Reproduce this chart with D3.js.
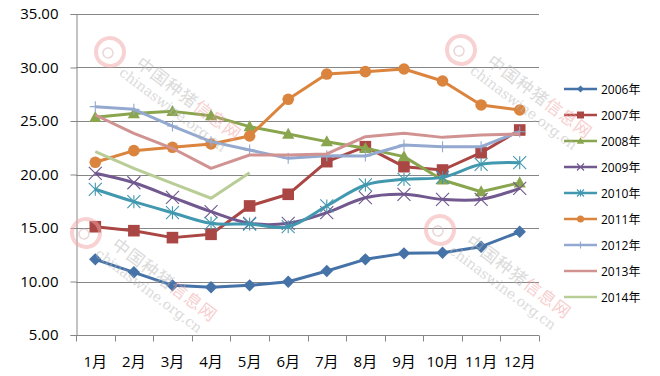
<!DOCTYPE html>
<html>
<head>
<meta charset="utf-8">
<script src="https://cdn.jsdelivr.net/npm/d3@7"></script>
<style>
  html, body { margin: 0; padding: 0; background: #fff; }
  svg { display: block; }
</style>
</head>
<body>
<div id="chart"></div>
<script>
/* ── Data (price per kg, by month) ── */
const months = ["1月", "2月", "3月", "4月", "5月", "6月", "7月", "8月", "9月", "10月", "11月", "12月"];
const years = ["2006年", "2007年", "2008年", "2009年", "2010年", "2011年", "2012年", "2013年", "2014年"];
const yTicks = [5, 10, 15, 20, 25, 30, 35];

const v2006 = [12.07, 10.86, 9.64, 9.46, 9.64, 9.98, 10.98, 12.07, 12.63, 12.69, 13.25, 14.65];
const v2007 = [15.12, 14.75, 14.10, 14.41, 17.06, 18.15, 21.20, 22.60, 20.73, 20.42, 22.04, 24.16];
const v2008 = [25.35, 25.70, 25.90, 25.50, 24.47, 23.78, 23.07, 22.45, 21.67, 19.49, 18.39, 19.23];
const v2009 = [20.11, 19.23, 17.87, 16.53, 15.44, 15.44, 16.44, 17.83, 18.15, 17.68, 17.68, 18.71];
const v2010 = [18.62, 17.46, 16.43, 15.44, 15.37, 15.12, 17.06, 19.02, 19.55, 19.73, 20.95, 21.10];
const v2011 = [21.14, 22.23, 22.54, 22.85, 23.60, 27.03, 29.39, 29.61, 29.86, 28.74, 26.50, 26.03];
const v2012 = [26.34, 26.09, 24.53, 23.07, 22.29, 21.51, 21.75, 21.73, 22.76, 22.60, 22.60, 24.00];
const v2013 = [25.56, 23.85, 22.45, 20.58, 21.82, 21.82, 21.92, 23.53, 23.85, 23.47, 23.69, 23.78];
const v2014 = [22.13, 20.58, 19.18, 17.78, 20.17];

const seriesValues = [v2006, v2007, v2008, v2009, v2010, v2011, v2012, v2013, v2014];
const seriesColors = ["#4572a7", "#aa4643", "#89a54e", "#71588f", "#4198af", "#db843d", "#93a9cf", "#d19392", "#b9cd96"];
const seriesMarkers = ["diamond", "square", "triangle", "cross", "star", "circle", "plus", null, null];
const smoothSeries = ["2009年", "2010年"];

const W = 660, H = 376;
const margin = { top: 14, right: 121, bottom: 41, left: 76 };
const FONT = "'Open Sans', 'Noto Sans CJK SC', sans-serif";

const svg = d3.select("#chart").append("svg")
  .attr("width", W)
  .attr("height", H)
  .style("font-family", FONT);

const x = d3.scaleBand()
  .domain(months)
  .range([margin.left, W - margin.right]);
const cx = m => x(m) + x.bandwidth() / 2;

const y = d3.scaleLinear()
  .domain([5, 35])
  .range([H - margin.bottom, margin.top]);

/* ── Gridlines ── */
svg.append("g")
  .selectAll("line")
  .data(yTicks.filter(t => t > 5))
  .enter().append("line")
  .attr("x1", margin.left)
  .attr("x2", W - margin.right)
  .attr("y1", d => Math.round(y(d)) + 0.5)
  .attr("y2", d => Math.round(y(d)) + 0.5)
  .attr("stroke", "#868686")
  .attr("stroke-width", 1);

/* ── Y axis ── */
const yAxis = svg.append("g")
  .attr("transform", `translate(${margin.left + 0.5},0)`)
  .call(d3.axisLeft(y).tickValues(yTicks).tickFormat(d3.format(".2f")).tickSize(6).tickPadding(12));
yAxis.select(".domain").attr("stroke", "#868686");
yAxis.selectAll(".tick line").attr("stroke", "#868686");
yAxis.selectAll("text")
  .attr("fill", "#000")
  .style("font-family", FONT)
  .style("font-size", "15px");

/* ── X axis: ticks between categories ── */
const xAxis = svg.append("g")
  .attr("transform", `translate(0,${Math.round(y(5)) + 0.5})`);
xAxis.append("line")
  .attr("x1", margin.left)
  .attr("x2", W - margin.right)
  .attr("stroke", "#868686");
const edges = months.map(m => x(m)).concat([x(months[months.length - 1]) + x.bandwidth()]);
xAxis.selectAll("line.tk")
  .data(edges)
  .enter().append("line")
  .attr("class", "tk")
  .attr("x1", d => Math.round(d) + 0.5)
  .attr("x2", d => Math.round(d) + 0.5)
  .attr("y1", 0)
  .attr("y2", 6)
  .attr("stroke", "#868686");
xAxis.selectAll("text")
  .data(months)
  .enter().append("text")
  .attr("x", d => cx(d))
  .attr("y", 31)
  .attr("text-anchor", "middle")
  .attr("fill", "#000")
  .style("font-size", "15px")
  .text(d => d);

/* ── Markers ── */
function drawMarker(g, type, color, s) {
  if (type === "diamond") {
    g.append("path").attr("d", `M0,${-s}L${s},0L0,${s}L${-s},0Z`).attr("fill", color);
  } else if (type === "square") {
    g.append("rect").attr("x", -s).attr("y", -s).attr("width", 2 * s).attr("height", 2 * s).attr("fill", color);
  } else if (type === "triangle") {
    g.append("path").attr("d", `M0,${-s * 1.1}L${s * 1.05},${s * 0.8}L${-s * 1.05},${s * 0.8}Z`).attr("fill", color);
  } else if (type === "circle") {
    g.append("circle").attr("r", s).attr("fill", color);
  } else if (type === "cross") {
    g.append("path").attr("d", `M${-s},${-s}L${s},${s}M${-s},${s}L${s},${-s}`)
      .attr("stroke", color).attr("stroke-width", 1.1).attr("fill", "none");
  } else if (type === "star") {
    g.append("path").attr("d", `M${-s},${-s}L${s},${s}M${-s},${s}L${s},${-s}M0,${-s}L0,${s}`)
      .attr("stroke", color).attr("stroke-width", 1.1).attr("fill", "none");
  } else if (type === "plus") {
    g.append("path").attr("d", `M0,${-s}L0,${s}M${-s},0L${s},0`)
      .attr("stroke", color).attr("stroke-width", 1.1).attr("fill", "none");
  }
}
const markerSize = { diamond: 6.2, square: 5.8, triangle: 5.8, circle: 5.8, cross: 6.5, star: 6.5, plus: 5.5 };

/* ── Series ── */
years.forEach((yr, i) => {
  const vals = seriesValues[i];
  const pts = vals.map((v, j) => [cx(months[j]), y(v)]);
  const line = d3.line()
    .curve(smoothSeries.includes(yr) ? d3.curveCatmullRom.alpha(0.5) : d3.curveLinear);
  const g = svg.append("g").attr("class", "series");
  g.append("path")
    .attr("d", line(pts))
    .attr("fill", "none")
    .attr("stroke", seriesColors[i])
    .attr("stroke-width", 3)
    .attr("stroke-linejoin", "round");
  const mk = seriesMarkers[i];
  if (mk) {
    pts.forEach(p => {
      const mg = g.append("g").attr("transform", `translate(${p[0]},${p[1]})`);
      drawMarker(mg, mk, seriesColors[i], markerSize[mk]);
    });
  }
});

/* ── Legend ── */
const legend = svg.append("g").attr("transform", "translate(564,89)");
years.forEach((yr, i) => {
  const g = legend.append("g").attr("transform", `translate(0,${i * 26})`);
  g.append("line")
    .attr("x1", 0).attr("x2", 33)
    .attr("stroke", seriesColors[i])
    .attr("stroke-width", 2.5);
  if (seriesMarkers[i]) {
    const mg = g.append("g").attr("transform", "translate(16.5,0)");
    drawMarker(mg, seriesMarkers[i], seriesColors[i], 3.5);
  }
  g.append("text")
    .attr("x", 37)
    .attr("y", 4.5)
    .attr("fill", "#000")
    .style("font-size", "12px")
    .text(yr);
});

/* ── Watermarks ── */
const marks = [[110, 52], [461, 50], [86, 233], [440, 230]];
marks.forEach(([mx, my]) => {
  const w = svg.append("g")
    .attr("transform", `translate(${mx},${my}) rotate(37)`)
    .style("pointer-events", "none")
    .attr("opacity", 0.5);
  w.append("circle").attr("r", 14).attr("fill", "none").attr("stroke", "#f2a6a6").attr("stroke-width", 4);
  w.append("circle").attr("r", 5).attr("cx", -1).attr("cy", 2).attr("fill", "none").attr("stroke", "#d8b0b0").attr("stroke-width", 1.5);
  const t = w.append("text")
    .attr("x", 28)
    .attr("y", -4)
    .style("font-family", "'Noto Sans CJK SC', sans-serif")
    .style("font-size", "17px")
    .style("letter-spacing", "1px");
  t.append("tspan").attr("fill", "#b8b8b8").text("中国种猪");
  t.append("tspan").attr("fill", "#f0a0a0").text("信息网");
  w.append("text")
    .attr("x", 20)
    .attr("y", 13)
    .attr("fill", "#b8b8b8")
    .style("font-family", "'DejaVu Serif', 'Liberation Serif', serif")
    .style("font-size", "14px")
    .text("chinaswine.org.cn");
});
</script>
</body>
</html>
